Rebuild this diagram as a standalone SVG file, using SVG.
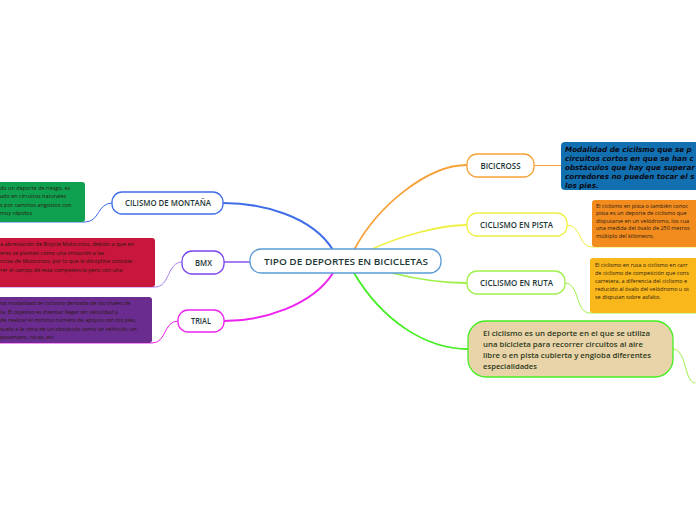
<svg xmlns="http://www.w3.org/2000/svg" width="696" height="520" viewBox="0 0 696 520">
<style>
.node{fill:#ffffff;stroke-width:1.3}
.lbl{font-family:"Open Sans","Liberation Sans",sans-serif;font-size:8.6px;font-weight:600;fill:#1d3636;text-anchor:middle}
.body{font-family:"Open Sans","Liberation Sans",sans-serif;font-size:5.5px;fill:#2a1a10}
.conn{fill:none;stroke-linecap:round}
.beige{font-family:"Open Sans","Liberation Sans",sans-serif;font-size:7.6px;font-weight:600;fill:#2d3a20}
.bi{font-family:"DejaVu Sans",sans-serif;font-size:7.2px;font-weight:bold;font-style:italic;fill:#0a0a14}
</style>
<rect width="696" height="520" fill="#ffffff"/>
<g id="connectors">
<path class="conn" d="M333,250 C312,216 262,203 223,203" stroke="#3f6ee8" stroke-width="2"/>
<path class="conn" d="M250,262 L224,262" stroke="#a57cf2" stroke-width="2"/>
<path class="conn" d="M333,273 C312,306 262,321 224,321" stroke="#ee22ee" stroke-width="2"/>
<path class="conn" d="M354,250 C378,205 428,165 467,165" stroke="#f7a239" stroke-width="1.8"/>
<path class="conn" d="M370,250 C400,236 440,225 467,225" stroke="#eef044" stroke-width="1.8"/>
<path class="conn" d="M392,273 C420,280 445,283 467,283" stroke="#9ef048" stroke-width="1.8"/>
<path class="conn" d="M354,273 C382,320 425,349 468,349" stroke="#44ee22" stroke-width="1.8"/>
<path class="conn" d="M112,203 C97,203 100,222 85,222 L-2,222" stroke="#3f6ee8" stroke-width="1"/>
<path class="conn" d="M182,262 C167,262 170,287 155,287 L-2,287" stroke="#a57cf2" stroke-width="1"/>
<path class="conn" d="M178,321 C163,321 167,343 152,343 L-2,343" stroke="#ee22ee" stroke-width="1"/>
<path class="conn" d="M534,165.5 L561,165.5" stroke="#f7a239" stroke-width="1"/>
<path class="conn" d="M567,225 C582,225 578,247 592,247 L698,247" stroke="#eef044" stroke-width="1"/>
<path class="conn" d="M565,283 C580,283 575,313 590,313 L698,313" stroke="#9ef048" stroke-width="1"/>
<path class="conn" d="M673,349 C687,349 684,383 695,383" stroke="#9ef048" stroke-width="1"/>
</g>
<g id="central">
<rect x="250" y="249" width="191" height="24" rx="11" fill="#ffffff" stroke="#5b9bd5" stroke-width="1.3"/>
<text class="lbl" x="346" y="264.5" font-size="10" fill="#1a2a48" textLength="164" lengthAdjust="spacingAndGlyphs">TIPO DE DEPORTES EN BICICLETAS</text>
</g>
<g id="montana">
<rect class="node" x="112" y="192" width="111" height="22" rx="10" stroke="#3f6ee8"/>
<text class="lbl" x="168" y="206" textLength="86" lengthAdjust="spacingAndGlyphs">CILISMO DE MONTAÑA</text>
</g>
<g id="bmx">
<rect class="node" x="182" y="251" width="42" height="23" rx="10" stroke="#7a44ee"/>
<text class="lbl" x="203.5" y="265.5" textLength="17" lengthAdjust="spacingAndGlyphs">BMX</text>
</g>
<g id="trial">
<rect class="node" x="178" y="310" width="46" height="22" rx="10" stroke="#ee22ee"/>
<text class="lbl" x="201" y="324" textLength="20" lengthAdjust="spacingAndGlyphs">TRIAL</text>
</g>
<g id="bicicross">
<rect class="node" x="467" y="154" width="67" height="23" rx="10" stroke="#f7a239"/>
<text class="lbl" x="500.5" y="168.5" textLength="40" lengthAdjust="spacingAndGlyphs">BICICROSS</text>
</g>
<g id="pista">
<rect class="node" x="467" y="213" width="100" height="23" rx="10" stroke="#eef044"/>
<text class="lbl" x="516.5" y="227.5" textLength="73" lengthAdjust="spacingAndGlyphs">CICLISMO EN PISTA</text>
</g>
<g id="ruta">
<rect class="node" x="467" y="271" width="98" height="23" rx="10" stroke="#9ef048"/>
<text class="lbl" x="516.5" y="285.5" textLength="73" lengthAdjust="spacingAndGlyphs">CICLISMO EN RUTA</text>
</g>
<g id="definicion">
<rect x="468" y="321" width="205" height="56" rx="18" fill="#e9d4a9" stroke="#44ee22" stroke-width="1.3"/>
<text class="beige" x="483" y="336" textLength="167" lengthAdjust="spacingAndGlyphs">El ciclismo es un deporte en el que se utiliza</text>
<text class="beige" x="483" y="347" textLength="160" lengthAdjust="spacingAndGlyphs">una bicicleta para recorrer circuitos al aire</text>
<text class="beige" x="483" y="358" textLength="168" lengthAdjust="spacingAndGlyphs">libre o en pista cubierta y engloba diferentes</text>
<text class="beige" x="483" y="369" textLength="54" lengthAdjust="spacingAndGlyphs">especialidades</text>
</g>
<g id="nota-bicicross">
<rect x="561" y="142" width="150" height="48" rx="4" fill="#1270b1"/>
<text class="bi" x="565" y="152">Modalidad de cicilsmo que se p</text>
<text class="bi" x="565" y="161">circuitos cortos en que se han c</text>
<text class="bi" x="565" y="170">obstáculos que hay que superar</text>
<text class="bi" x="565" y="179">corredores no pueden tocar el s</text>
<text class="bi" x="565" y="188">los pies.</text>
</g>
<g id="nota-pista">
<rect x="592" y="200" width="110" height="47" rx="3" fill="#f28c1f"/>
<text class="body" x="596" y="207.5">El ciclismo en pista o también conoc</text>
<text class="body" x="596" y="215">pista es un deporte de ciclismo que</text>
<text class="body" x="596" y="222.5">disputarse en un velódromo, los cua</text>
<text class="body" x="596" y="230">una medida del óvalo de 250 metros</text>
<text class="body" x="596" y="237.5">múltiplo del kilómetro.</text>
</g>
<g id="nota-ruta">
<rect x="590" y="258" width="112" height="55" rx="3" fill="#f9b71b"/>
<text class="body" x="595" y="267">El ciclismo en ruta o ciclismo en carr</text>
<text class="body" x="595" y="275">de ciclismo de competición que cons</text>
<text class="body" x="595" y="283">carretera, a diferencia del ciclismo e</text>
<text class="body" x="595" y="291">reducido al óvalo del velódromo u ot</text>
<text class="body" x="595" y="299">se disputan sobre asfalto.</text>
</g>
<g id="nota-montana">
<rect x="-10" y="182" width="95" height="40" rx="3" fill="#0fa14f"/>
<text class="body" x="0" y="189.5">do un deporte de riesgo, es</text>
<text class="body" x="0" y="198">ado en circuitos naturales</text>
<text class="body" x="0" y="206.5">s por caminos angostos con</text>
<text class="body" x="0" y="215">muy rápidos</text>
</g>
<g id="nota-bmx">
<rect x="-10" y="238" width="165" height="49" rx="3" fill="#c8163c"/>
<text class="body" x="0" y="246">a abreviación de Bicycle Motocross, debido a que en</text>
<text class="body" x="0" y="254.5">eres se planteó como una imitación a las</text>
<text class="body" x="0" y="263">ncias de Motocross, por lo que la disciplina consiste</text>
<text class="body" x="0" y="271.5">rer el campo de esta competencia pero con una</text>
</g>
<g id="nota-trial">
<rect x="-10" y="297" width="162" height="46" rx="3" fill="#6a2c8e"/>
<text class="body" x="0" y="305">na modalidad de ciclismo derivada de los triales de</text>
<text class="body" x="0" y="313.5">ta. El objetivo es intentar llegar sin velocidad y,</text>
<text class="body" x="0" y="322">de realizar el mínimo número de apoyos con los pies,</text>
<text class="body" x="0" y="330.5">suelo a la cima de un obstáculo como un vehículo, un</text>
<text class="body" x="0" y="339">pasamano, rocas, etc</text>
</g>
</svg>
